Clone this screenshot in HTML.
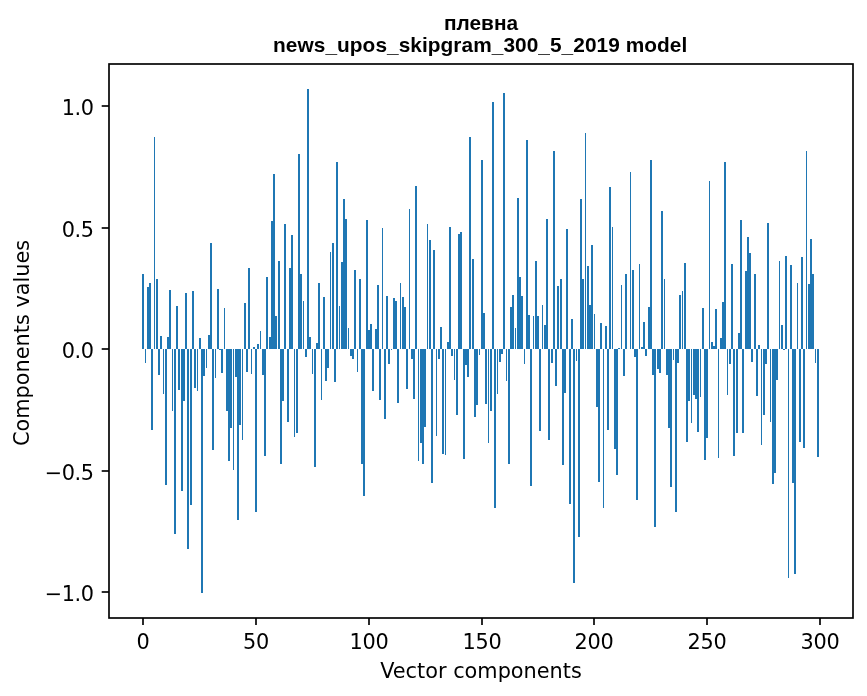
<!DOCTYPE html>
<html lang="ru"><head><meta charset="utf-8"><title>плевна news_upos_skipgram_300_5_2019 model</title>
<style>
html,body{margin:0;padding:0;background:#fff}
svg{display:block}
.t{font-family:"DejaVu Sans","Liberation Sans",sans-serif;font-size:20.83px;fill:#000}
.h{font-family:"Liberation Sans","DejaVu Sans",sans-serif;font-size:20.83px;font-weight:bold;fill:#000}
</style></head><body>
<svg width="867" height="696" viewBox="0 0 867 696">
<rect x="0" y="0" width="867" height="696" fill="#fff"/>
<g fill="#1f77b4" shape-rendering="crispEdges">
<rect x="142" y="274" width="2" height="75"/>
<rect x="145" y="349" width="1" height="14"/>
<rect x="147" y="287" width="2" height="62"/>
<rect x="149" y="283" width="2" height="66"/>
<rect x="151" y="349" width="2" height="81"/>
<rect x="154" y="137" width="1" height="212"/>
<rect x="156" y="279" width="2" height="70"/>
<rect x="158" y="349" width="2" height="26"/>
<rect x="160" y="336" width="2" height="13"/>
<rect x="163" y="349" width="1" height="45"/>
<rect x="165" y="349" width="2" height="136"/>
<rect x="167" y="337" width="2" height="12"/>
<rect x="169" y="290" width="2" height="59"/>
<rect x="172" y="349" width="1" height="62"/>
<rect x="174" y="349" width="2" height="185"/>
<rect x="176" y="306" width="2" height="43"/>
<rect x="178" y="349" width="2" height="41"/>
<rect x="181" y="349" width="2" height="142"/>
<rect x="183" y="349" width="2" height="52"/>
<rect x="185" y="293" width="2" height="56"/>
<rect x="187" y="349" width="2" height="200"/>
<rect x="190" y="349" width="2" height="156"/>
<rect x="192" y="291" width="2" height="58"/>
<rect x="194" y="349" width="2" height="39"/>
<rect x="197" y="349" width="1" height="42"/>
<rect x="199" y="338" width="2" height="11"/>
<rect x="201" y="349" width="2" height="244"/>
<rect x="203" y="349" width="2" height="27"/>
<rect x="206" y="349" width="1" height="19"/>
<rect x="208" y="335" width="2" height="14"/>
<rect x="210" y="243" width="2" height="106"/>
<rect x="212" y="349" width="2" height="101"/>
<rect x="215" y="349" width="1" height="29"/>
<rect x="217" y="289" width="2" height="60"/>
<rect x="219" y="349" width="2" height="1"/>
<rect x="221" y="349" width="2" height="24"/>
<rect x="224" y="308" width="1" height="41"/>
<rect x="226" y="349" width="2" height="62"/>
<rect x="228" y="349" width="2" height="112"/>
<rect x="230" y="349" width="2" height="79"/>
<rect x="233" y="349" width="1" height="121"/>
<rect x="235" y="349" width="2" height="28"/>
<rect x="237" y="349" width="2" height="171"/>
<rect x="239" y="349" width="2" height="76"/>
<rect x="242" y="349" width="1" height="91"/>
<rect x="244" y="303" width="2" height="46"/>
<rect x="246" y="349" width="2" height="23"/>
<rect x="248" y="268" width="2" height="81"/>
<rect x="251" y="349" width="1" height="25"/>
<rect x="253" y="347" width="2" height="2"/>
<rect x="255" y="349" width="2" height="163"/>
<rect x="257" y="344" width="2" height="5"/>
<rect x="260" y="331" width="1" height="18"/>
<rect x="262" y="349" width="2" height="26"/>
<rect x="264" y="349" width="2" height="107"/>
<rect x="266" y="277" width="2" height="72"/>
<rect x="269" y="337" width="2" height="12"/>
<rect x="271" y="221" width="2" height="128"/>
<rect x="273" y="174" width="2" height="175"/>
<rect x="275" y="316" width="2" height="33"/>
<rect x="278" y="261" width="2" height="88"/>
<rect x="280" y="349" width="2" height="115"/>
<rect x="282" y="349" width="2" height="52"/>
<rect x="284" y="224" width="2" height="125"/>
<rect x="287" y="349" width="2" height="73"/>
<rect x="289" y="268" width="2" height="81"/>
<rect x="291" y="235" width="2" height="114"/>
<rect x="294" y="349" width="1" height="88"/>
<rect x="296" y="349" width="2" height="84"/>
<rect x="298" y="154" width="2" height="195"/>
<rect x="300" y="274" width="2" height="75"/>
<rect x="303" y="301" width="1" height="48"/>
<rect x="305" y="349" width="2" height="8"/>
<rect x="307" y="89" width="2" height="260"/>
<rect x="309" y="337" width="2" height="12"/>
<rect x="312" y="349" width="1" height="25"/>
<rect x="314" y="349" width="2" height="118"/>
<rect x="316" y="343" width="2" height="6"/>
<rect x="318" y="283" width="2" height="66"/>
<rect x="321" y="349" width="1" height="51"/>
<rect x="323" y="297" width="2" height="52"/>
<rect x="325" y="349" width="2" height="32"/>
<rect x="327" y="349" width="2" height="19"/>
<rect x="330" y="252" width="1" height="97"/>
<rect x="332" y="243" width="2" height="106"/>
<rect x="334" y="349" width="2" height="33"/>
<rect x="336" y="162" width="2" height="187"/>
<rect x="339" y="306" width="1" height="43"/>
<rect x="341" y="262" width="2" height="87"/>
<rect x="343" y="199" width="2" height="150"/>
<rect x="345" y="219" width="2" height="130"/>
<rect x="348" y="328" width="1" height="21"/>
<rect x="350" y="349" width="2" height="7"/>
<rect x="352" y="349" width="2" height="10"/>
<rect x="354" y="270" width="2" height="79"/>
<rect x="357" y="349" width="1" height="23"/>
<rect x="359" y="279" width="2" height="70"/>
<rect x="361" y="349" width="2" height="115"/>
<rect x="363" y="349" width="2" height="147"/>
<rect x="366" y="220" width="2" height="129"/>
<rect x="368" y="330" width="2" height="19"/>
<rect x="370" y="324" width="2" height="25"/>
<rect x="372" y="349" width="2" height="42"/>
<rect x="375" y="329" width="2" height="20"/>
<rect x="377" y="285" width="2" height="64"/>
<rect x="379" y="349" width="2" height="51"/>
<rect x="382" y="228" width="1" height="121"/>
<rect x="384" y="349" width="2" height="70"/>
<rect x="386" y="296" width="2" height="53"/>
<rect x="388" y="349" width="2" height="15"/>
<rect x="391" y="349" width="1" height="1"/>
<rect x="393" y="298" width="2" height="51"/>
<rect x="395" y="301" width="2" height="48"/>
<rect x="397" y="349" width="2" height="54"/>
<rect x="400" y="283" width="1" height="66"/>
<rect x="402" y="297" width="2" height="52"/>
<rect x="404" y="307" width="2" height="42"/>
<rect x="406" y="349" width="2" height="40"/>
<rect x="409" y="209" width="1" height="140"/>
<rect x="411" y="349" width="2" height="10"/>
<rect x="413" y="349" width="2" height="50"/>
<rect x="415" y="186" width="2" height="163"/>
<rect x="418" y="349" width="1" height="112"/>
<rect x="420" y="349" width="2" height="94"/>
<rect x="422" y="349" width="2" height="115"/>
<rect x="424" y="349" width="2" height="78"/>
<rect x="427" y="224" width="1" height="125"/>
<rect x="429" y="240" width="2" height="109"/>
<rect x="431" y="349" width="2" height="134"/>
<rect x="433" y="250" width="2" height="99"/>
<rect x="436" y="349" width="1" height="87"/>
<rect x="438" y="349" width="2" height="10"/>
<rect x="440" y="327" width="2" height="22"/>
<rect x="442" y="349" width="2" height="105"/>
<rect x="445" y="349" width="1" height="106"/>
<rect x="447" y="342" width="2" height="7"/>
<rect x="449" y="227" width="2" height="122"/>
<rect x="451" y="349" width="2" height="7"/>
<rect x="454" y="349" width="1" height="31"/>
<rect x="456" y="349" width="2" height="66"/>
<rect x="458" y="234" width="2" height="115"/>
<rect x="460" y="232" width="2" height="117"/>
<rect x="463" y="349" width="2" height="110"/>
<rect x="465" y="349" width="2" height="16"/>
<rect x="467" y="349" width="2" height="28"/>
<rect x="469" y="137" width="2" height="212"/>
<rect x="472" y="259" width="2" height="90"/>
<rect x="474" y="349" width="2" height="68"/>
<rect x="476" y="349" width="2" height="56"/>
<rect x="479" y="349" width="1" height="6"/>
<rect x="481" y="160" width="2" height="189"/>
<rect x="483" y="313" width="2" height="36"/>
<rect x="485" y="349" width="2" height="55"/>
<rect x="488" y="349" width="1" height="94"/>
<rect x="490" y="349" width="2" height="62"/>
<rect x="492" y="102" width="2" height="247"/>
<rect x="494" y="349" width="2" height="159"/>
<rect x="497" y="349" width="1" height="45"/>
<rect x="499" y="349" width="2" height="13"/>
<rect x="501" y="349" width="2" height="5"/>
<rect x="503" y="93" width="2" height="256"/>
<rect x="506" y="349" width="1" height="32"/>
<rect x="508" y="349" width="2" height="115"/>
<rect x="510" y="307" width="2" height="42"/>
<rect x="512" y="295" width="2" height="54"/>
<rect x="515" y="328" width="1" height="21"/>
<rect x="517" y="198" width="2" height="151"/>
<rect x="519" y="277" width="2" height="72"/>
<rect x="521" y="296" width="2" height="53"/>
<rect x="524" y="349" width="1" height="15"/>
<rect x="526" y="140" width="2" height="209"/>
<rect x="528" y="315" width="2" height="34"/>
<rect x="530" y="349" width="2" height="137"/>
<rect x="533" y="316" width="1" height="33"/>
<rect x="535" y="261" width="2" height="88"/>
<rect x="537" y="316" width="2" height="33"/>
<rect x="539" y="349" width="2" height="82"/>
<rect x="542" y="305" width="1" height="44"/>
<rect x="544" y="325" width="2" height="24"/>
<rect x="546" y="219" width="2" height="130"/>
<rect x="548" y="349" width="2" height="91"/>
<rect x="551" y="349" width="2" height="14"/>
<rect x="553" y="151" width="2" height="198"/>
<rect x="555" y="349" width="2" height="37"/>
<rect x="557" y="286" width="2" height="63"/>
<rect x="560" y="279" width="2" height="70"/>
<rect x="562" y="349" width="2" height="116"/>
<rect x="564" y="349" width="2" height="44"/>
<rect x="566" y="229" width="2" height="120"/>
<rect x="569" y="349" width="2" height="155"/>
<rect x="571" y="319" width="2" height="30"/>
<rect x="573" y="349" width="2" height="234"/>
<rect x="576" y="349" width="1" height="12"/>
<rect x="578" y="349" width="2" height="188"/>
<rect x="580" y="199" width="2" height="150"/>
<rect x="582" y="279" width="2" height="70"/>
<rect x="585" y="133" width="1" height="216"/>
<rect x="587" y="266" width="2" height="83"/>
<rect x="589" y="305" width="2" height="44"/>
<rect x="591" y="245" width="2" height="104"/>
<rect x="594" y="314" width="1" height="35"/>
<rect x="596" y="349" width="2" height="58"/>
<rect x="598" y="349" width="2" height="133"/>
<rect x="600" y="323" width="2" height="26"/>
<rect x="603" y="349" width="1" height="159"/>
<rect x="605" y="326" width="2" height="23"/>
<rect x="607" y="349" width="2" height="81"/>
<rect x="609" y="187" width="2" height="162"/>
<rect x="612" y="227" width="1" height="122"/>
<rect x="614" y="349" width="2" height="100"/>
<rect x="616" y="349" width="2" height="126"/>
<rect x="618" y="348" width="2" height="1"/>
<rect x="621" y="285" width="1" height="64"/>
<rect x="623" y="349" width="2" height="27"/>
<rect x="625" y="274" width="2" height="75"/>
<rect x="630" y="172" width="1" height="177"/>
<rect x="632" y="270" width="2" height="79"/>
<rect x="634" y="349" width="2" height="8"/>
<rect x="636" y="349" width="2" height="151"/>
<rect x="639" y="264" width="1" height="85"/>
<rect x="641" y="347" width="2" height="2"/>
<rect x="643" y="322" width="2" height="27"/>
<rect x="645" y="349" width="2" height="7"/>
<rect x="648" y="307" width="2" height="42"/>
<rect x="650" y="160" width="2" height="189"/>
<rect x="652" y="349" width="2" height="26"/>
<rect x="654" y="349" width="2" height="178"/>
<rect x="657" y="349" width="2" height="20"/>
<rect x="659" y="349" width="2" height="24"/>
<rect x="661" y="211" width="2" height="138"/>
<rect x="664" y="279" width="1" height="70"/>
<rect x="666" y="349" width="2" height="26"/>
<rect x="668" y="349" width="2" height="79"/>
<rect x="670" y="349" width="2" height="138"/>
<rect x="673" y="349" width="1" height="11"/>
<rect x="675" y="349" width="2" height="163"/>
<rect x="677" y="349" width="2" height="14"/>
<rect x="679" y="295" width="2" height="54"/>
<rect x="682" y="291" width="1" height="58"/>
<rect x="684" y="263" width="2" height="86"/>
<rect x="686" y="349" width="2" height="93"/>
<rect x="688" y="349" width="2" height="52"/>
<rect x="691" y="349" width="1" height="74"/>
<rect x="693" y="349" width="2" height="46"/>
<rect x="695" y="349" width="2" height="50"/>
<rect x="697" y="349" width="2" height="83"/>
<rect x="700" y="349" width="1" height="48"/>
<rect x="702" y="308" width="2" height="41"/>
<rect x="704" y="349" width="2" height="111"/>
<rect x="706" y="349" width="2" height="89"/>
<rect x="709" y="181" width="1" height="168"/>
<rect x="711" y="342" width="2" height="7"/>
<rect x="713" y="346" width="2" height="3"/>
<rect x="715" y="309" width="2" height="40"/>
<rect x="718" y="349" width="1" height="109"/>
<rect x="720" y="338" width="2" height="11"/>
<rect x="722" y="302" width="2" height="47"/>
<rect x="724" y="162" width="2" height="187"/>
<rect x="727" y="349" width="1" height="46"/>
<rect x="729" y="349" width="2" height="15"/>
<rect x="731" y="264" width="2" height="85"/>
<rect x="733" y="349" width="2" height="107"/>
<rect x="736" y="349" width="2" height="84"/>
<rect x="738" y="333" width="2" height="16"/>
<rect x="740" y="220" width="2" height="129"/>
<rect x="742" y="349" width="2" height="84"/>
<rect x="745" y="271" width="2" height="78"/>
<rect x="747" y="237" width="2" height="112"/>
<rect x="749" y="253" width="2" height="96"/>
<rect x="751" y="349" width="2" height="13"/>
<rect x="754" y="274" width="2" height="75"/>
<rect x="756" y="349" width="2" height="47"/>
<rect x="758" y="345" width="2" height="4"/>
<rect x="761" y="349" width="1" height="96"/>
<rect x="763" y="349" width="2" height="66"/>
<rect x="765" y="349" width="2" height="15"/>
<rect x="767" y="223" width="2" height="126"/>
<rect x="770" y="349" width="1" height="73"/>
<rect x="772" y="349" width="2" height="135"/>
<rect x="774" y="349" width="2" height="124"/>
<rect x="776" y="349" width="2" height="31"/>
<rect x="779" y="261" width="1" height="88"/>
<rect x="781" y="325" width="2" height="24"/>
<rect x="783" y="349" width="2" height="1"/>
<rect x="785" y="256" width="2" height="93"/>
<rect x="788" y="349" width="1" height="229"/>
<rect x="790" y="265" width="2" height="84"/>
<rect x="792" y="349" width="2" height="134"/>
<rect x="794" y="349" width="2" height="225"/>
<rect x="797" y="283" width="1" height="66"/>
<rect x="799" y="349" width="2" height="93"/>
<rect x="801" y="257" width="2" height="92"/>
<rect x="803" y="349" width="2" height="99"/>
<rect x="806" y="151" width="1" height="198"/>
<rect x="808" y="284" width="2" height="65"/>
<rect x="810" y="239" width="2" height="110"/>
<rect x="812" y="274" width="2" height="75"/>
<rect x="815" y="349" width="1" height="14"/>
<rect x="817" y="349" width="2" height="108"/>
</g>
<g stroke="#000" stroke-width="1.67" fill="none">
<line x1="143" y1="618" x2="143" y2="625"/>
<line x1="256" y1="618" x2="256" y2="625"/>
<line x1="369" y1="618" x2="369" y2="625"/>
<line x1="482" y1="618" x2="482" y2="625"/>
<line x1="594" y1="618" x2="594" y2="625"/>
<line x1="707" y1="618" x2="707" y2="625"/>
<line x1="820" y1="618" x2="820" y2="625"/>
<line x1="109" y1="106" x2="101.7" y2="106"/>
<line x1="109" y1="228" x2="101.7" y2="228"/>
<line x1="109" y1="349" x2="101.7" y2="349"/>
<line x1="109" y1="471" x2="101.7" y2="471"/>
<line x1="109" y1="592" x2="101.7" y2="592"/>
<rect x="109" y="64" width="744" height="554" stroke-linejoin="miter"/>
</g>
<g class="t" text-anchor="middle">
<text x="142.9" y="648.5" letter-spacing="-0.25">0</text>
<text x="255.9" y="648.5" letter-spacing="-0.25">50</text>
<text x="368.9" y="648.5" letter-spacing="-0.25">100</text>
<text x="481.9" y="648.5" letter-spacing="-0.25">150</text>
<text x="593.9" y="648.5" letter-spacing="-0.25">200</text>
<text x="706.9" y="648.5" letter-spacing="-0.25">250</text>
<text x="819.9" y="648.5" letter-spacing="-0.25">300</text>
<text x="481" y="677.5">Vector components</text>
<text transform="translate(29.4 342.9) rotate(-90)">Components values</text>
</g>
<g class="t" text-anchor="end">
<text x="93.6" y="115.3" letter-spacing="-0.45">1.0</text>
<text x="93.6" y="237.3" letter-spacing="-0.45">0.5</text>
<text x="93.6" y="358.3" letter-spacing="-0.45">0.0</text>
<text x="93.6" y="480.3" letter-spacing="-0.45">−0.5</text>
<text x="93.6" y="601.3" letter-spacing="-0.45">−1.0</text>
</g>
<g class="h" text-anchor="middle"><text x="481" y="29.5">плевна</text><text x="480.2" y="51.9" letter-spacing="0.06">news_upos_skipgram_300_5_2019 model</text></g>
</svg>
</body></html>
